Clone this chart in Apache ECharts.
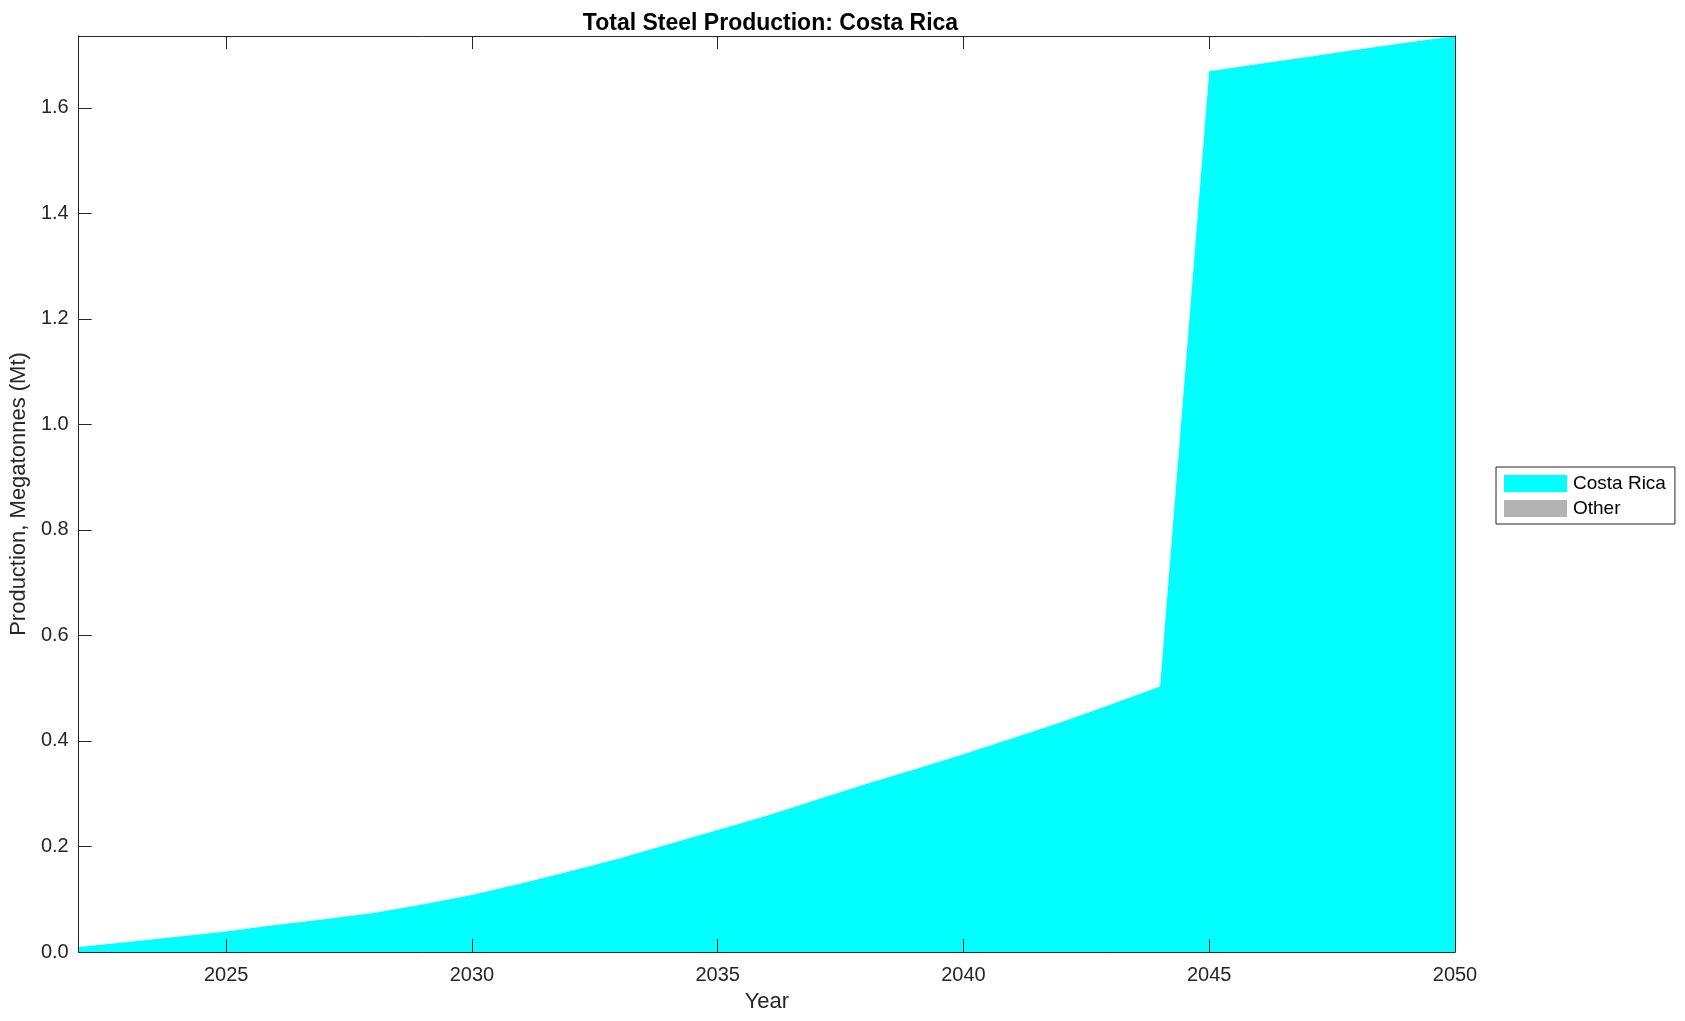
<!DOCTYPE html>
<html>
<head>
<meta charset="utf-8">
<title>Total Steel Production: Costa Rica</title>
<script src="https://cdn.jsdelivr.net/npm/echarts@6/dist/echarts.min.js"></script>
<style>
  html, body { margin: 0; padding: 0; background: #fff; }
  #chart { width: 1685px; height: 1021px; }
</style>
</head>
<body>
<div id="chart"></div>
<script>
// data
var years = [2022, 2023, 2024, 2025, 2026, 2027, 2028, 2029, 2030, 2031,
  2032, 2033, 2034, 2035, 2036, 2037, 2038, 2039, 2040, 2041,
  2042, 2043, 2044, 2045, 2046, 2047, 2048, 2049, 2050];
var costaRica = [0.0095, 0.019, 0.029, 0.039, 0.051, 0.062, 0.074, 0.090, 0.108, 0.130,
  0.153, 0.177, 0.204, 0.231, 0.258, 0.288, 0.318, 0.346, 0.375, 0.405,
  0.436, 0.469, 0.503, 1.669, 1.683, 1.696, 1.710, 1.723, 1.736];
var other = [0, 0, 0, 0, 0, 0, 0, 0, 0, 0,
  0, 0, 0, 0, 0, 0, 0, 0, 0, 0,
  0, 0, 0, 0, 0, 0, 0, 0, 0];
var xTicks = [2025, 2030, 2035, 2040, 2045, 2050];
var yTicks = [0, 0.2, 0.4, 0.6, 0.8, 1.0, 1.2, 1.4, 1.6];

var FONT = '"Liberation Sans", Arial, Helvetica, sans-serif';
var AXIS_COLOR = '#262626';

function pairs(vals) {
  return years.map(function (y, i) { return [y, vals[i]]; });
}

var chart = echarts.init(document.getElementById('chart'));

function xAxisDef(pos, showLabels) {
  return {
    type: 'value',
    position: pos,
    min: 2022,
    max: 2050,
    z: 5,
    name: showLabels ? 'Year' : '',
    nameLocation: 'middle',
    nameGap: 39,
    nameTextStyle: { fontFamily: FONT, fontSize: 22, color: AXIS_COLOR },
    axisLine: { show: true, onZero: false, lineStyle: { color: AXIS_COLOR, width: 1 } },
    axisTick: { show: true, inside: true, length: 13, customValues: xTicks,
      lineStyle: { color: AXIS_COLOR, width: 1 } },
    axisLabel: { show: showLabels, customValues: xTicks, margin: 13,
      fontFamily: FONT, fontSize: 20, color: AXIS_COLOR,
      formatter: function (v) { return String(v); } },
    splitLine: { show: false }
  };
}

function yAxisDef(pos, showLabels) {
  return {
    type: 'value',
    position: pos,
    min: 0,
    max: 'dataMax',
    z: 5,
    name: showLabels ? 'Production, Megatonnes (Mt)' : '',
    nameLocation: 'middle',
    nameGap: 46,
    nameTextStyle: { fontFamily: FONT, fontSize: 22, color: AXIS_COLOR },
    axisLine: { show: true, onZero: false, lineStyle: { color: AXIS_COLOR, width: 1 } },
    axisTick: { show: true, inside: true, length: 13, customValues: yTicks,
      lineStyle: { color: AXIS_COLOR, width: 1 } },
    axisLabel: { show: showLabels, customValues: yTicks, margin: 10,
      fontFamily: FONT, fontSize: 20, color: AXIS_COLOR,
      formatter: function (v) { return v.toFixed(1); } },
    splitLine: { show: false }
  };
}

chart.setOption({
  animation: false,
  backgroundColor: '#ffffff',
  title: {
    text: 'Total Steel Production: Costa Rica',
    left: 765.5,
    textAlign: 'center',
    top: 7,
    textStyle: { fontFamily: FONT, fontSize: 23, fontWeight: 'bold', color: '#000' }
  },
  grid: { left: 76, right: 230, top: 36, bottom: 69 },
  legend: {
    orient: 'vertical',
    left: 1496,
    top: 467,
    itemWidth: 63,
    itemHeight: 17,
    itemGap: 6,
    padding: [7, 9, 6, 8],
    borderColor: '#262626',
    borderWidth: 1,
    backgroundColor: '#fff',
    icon: 'rect',
    textStyle: { fontFamily: FONT, fontSize: 19, color: '#000', padding: [0, 0, 0, 1] },
    data: ['Costa Rica', 'Other']
  },
  xAxis: [xAxisDef('bottom', true), xAxisDef('top', false)],
  yAxis: [yAxisDef('left', true), yAxisDef('right', false)],
  series: [
    {
      name: 'Costa Rica',
      type: 'line',
      stack: 'total',
      z: 1,
      showSymbol: false,
      color: '#00ffff',
      lineStyle: { width: 0 },
      areaStyle: { color: '#00ffff', opacity: 1 },
      data: pairs(costaRica)
    },
    {
      name: 'Other',
      type: 'line',
      stack: 'total',
      z: 1,
      showSymbol: false,
      color: '#b3b3b3',
      lineStyle: { width: 0 },
      areaStyle: { color: '#b3b3b3', opacity: 1 },
      data: pairs(other)
    }
  ]
});
</script>
</body>
</html>
